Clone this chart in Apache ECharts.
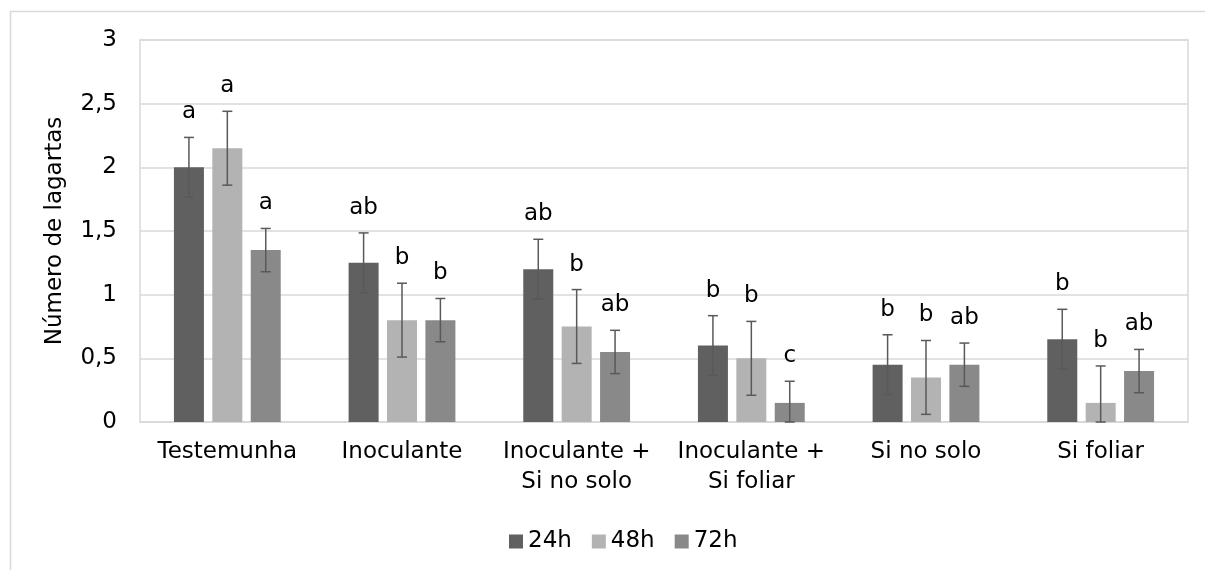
<!DOCTYPE html>
<html>
<head>
<meta charset="utf-8">
<script src="https://cdn.jsdelivr.net/npm/echarts@6/dist/echarts.min.js"></script>
<style>
  html, body { margin: 0; padding: 0; background: #fff; }
  #chart { width: 1205px; height: 570px; }
</style>
</head>
<body>
<div id="chart"></div>
<script>
const categories = ['Testemunha', 'Inoculante', 'Inoculante +\nSi no solo', 'Inoculante +\nSi foliar', 'Si no solo', 'Si foliar'];
const seriesNames = ['24h', '48h', '72h'];

const values24 = [2.0, 1.25, 1.2, 0.6, 0.45, 0.65];
const values48 = [2.15, 0.8, 0.75, 0.5, 0.35, 0.15];
const values72 = [1.35, 0.8, 0.55, 0.15, 0.45, 0.4];

// standard error per bar
const err24 = [0.235, 0.235, 0.235, 0.235, 0.235, 0.235];
const err48 = [0.29, 0.29, 0.29, 0.29, 0.29, 0.29];
const err72 = [0.17, 0.17, 0.17, 0.17, 0.17, 0.17];

// significance letters
const letters24 = ['a', 'ab', 'ab', 'b', 'b', 'b'];
const letters48 = ['a', 'b', 'b', 'b', 'b', 'b'];
const letters72 = ['a', 'b', 'ab', 'c', 'ab', 'ab'];

const yTicks = [0, 0.5, 1, 1.5, 2, 2.5, 3];

const FONT = 'DejaVu Sans';
const FONT_SIZE = 23;
const colors = ['#606060', '#b3b3b3', '#898989'];
const BAR_WIDTH = 30;
const BAR_GAP = 0.28;

const allValues = [values24, values48, values72];
const allErrors = [err24, err48, err72];
const allLetters = [letters24, letters48, letters72];

const chart = echarts.init(document.getElementById('chart'));

const barSeries = allValues.map((vals, i) => ({
  name: seriesNames[i],
  type: 'bar',
  data: vals,
  barWidth: BAR_WIDTH,
  barGap: (BAR_GAP * 100) + '%',
  itemStyle: { color: colors[i] },
  z: 2,
}));

const errorSeries = allValues.map((vals, i) => ({
  type: 'custom',
  name: seriesNames[i] + '-err',
  data: vals.map((v, j) => [j, v]),
  z: 5,
  silent: true,
  renderItem(params, api) {
    const idx = params.dataIndex;
    const v = api.value(1);
    const e = allErrors[i][idx];
    const offset = (i - 1) * BAR_WIDTH * (1 + BAR_GAP);
    const top = api.coord([api.value(0), v + e]);
    const bottom = api.coord([api.value(0), Math.max(0, v - e)]);
    const x = top[0] + offset;
    const cap = 5;
    const style = { stroke: '#595959', lineWidth: 1.5 };
    return {
      type: 'group',
      children: [
        { type: 'line', shape: { x1: x, y1: top[1], x2: x, y2: bottom[1] }, style },
        { type: 'line', shape: { x1: x - cap, y1: top[1], x2: x + cap, y2: top[1] }, style },
        { type: 'line', shape: { x1: x - cap, y1: bottom[1], x2: x + cap, y2: bottom[1] }, style },
        {
          type: 'text',
          style: {
            text: allLetters[i][idx],
            x,
            y: top[1] - 25,
            align: 'center',
            verticalAlign: 'middle',
            font: FONT_SIZE + 'px "' + FONT + '"',
            fill: '#000',
          },
        },
      ],
    };
  },
}));

chart.setOption({
  animation: false,
  textStyle: { fontFamily: FONT },
  graphic: [
    {
      type: 'rect',
      left: 8,
      top: 9,
      shape: { width: 1400, height: 800 },
      style: { fill: 'none', stroke: '#d9d9d9', lineWidth: 1.5 },
      z: -1,
    },
  ],
  grid: {
    left: 140,
    right: 17,
    top: 40,
    bottom: 148,
    show: true,
    borderColor: '#d9d9d9',
    borderWidth: 1.5,
  },
  legend: {
    data: seriesNames,
    left: 504,
    top: 525,
    itemWidth: 14,
    itemHeight: 14,
    itemGap: 20,
    icon: 'rect',
    textStyle: { fontSize: FONT_SIZE, color: '#000', fontFamily: FONT },
  },
  xAxis: {
    type: 'category',
    data: categories,
    axisTick: { show: false },
    axisLine: { lineStyle: { color: '#d9d9d9', width: 1.5 } },
    axisLabel: {
      fontSize: FONT_SIZE,
      lineHeight: 30,
      color: '#000',
      margin: 15,
      interval: 0,
      fontFamily: FONT,
    },
  },
  yAxis: {
    type: 'value',
    min: yTicks[0],
    max: yTicks[yTicks.length - 1],
    interval: 0.5,
    name: 'Número de lagartas',
    nameLocation: 'middle',
    nameGap: 73,
    nameTextStyle: { fontSize: FONT_SIZE, color: '#000', fontFamily: FONT },
    axisLine: { show: false },
    axisTick: { show: false },
    splitLine: { lineStyle: { color: '#d9d9d9', width: 1.5 } },
    axisLabel: {
      fontSize: FONT_SIZE,
      color: '#000',
      margin: 23,
      fontFamily: FONT,
      formatter: (val) => String(val).replace('.', ','),
    },
  },
  series: [...barSeries, ...errorSeries],
});
</script>
</body>
</html>
